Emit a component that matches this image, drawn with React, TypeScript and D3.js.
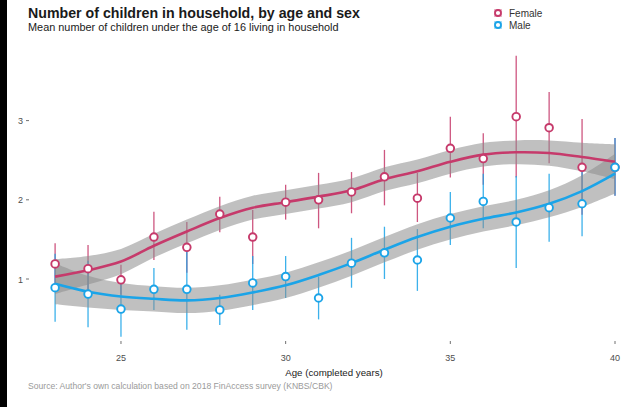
import React from "react";
import * as d3 from "d3";

const ages = [23, 24, 25, 26, 27, 28, 29, 30, 31, 32, 33, 34, 35, 36, 37, 38, 39, 40];

const femaleMean = [1.19, 1.13, 0.99, 1.53, 1.40, 1.82, 1.53, 1.97, 2.00, 2.10, 2.29, 2.02, 2.65, 2.52, 3.05, 2.91, 2.41, 2.41];
const femaleLow = [0.92, 0.82, 0.80, 1.24, 1.08, 1.59, 1.19, 1.75, 1.64, 1.83, 1.93, 1.72, 2.28, 2.19, 2.28, 2.46, 1.81, 2.05];
const femaleHigh = [1.45, 1.43, 1.18, 1.85, 1.72, 2.04, 1.87, 2.19, 2.34, 2.35, 2.63, 2.34, 3.05, 2.84, 3.82, 3.36, 3.02, 2.78];

const maleMean = [0.89, 0.81, 0.62, 0.87, 0.87, 0.61, 0.95, 1.03, 0.76, 1.20, 1.33, 1.24, 1.77, 1.98, 1.72, 1.90, 1.95, 2.41];
const maleLow = [0.46, 0.39, 0.27, 0.61, 0.36, 0.42, 0.61, 0.76, 0.49, 0.89, 1.00, 0.85, 1.43, 1.64, 1.14, 1.47, 1.54, 2.05];
const maleHigh = [1.32, 1.23, 0.97, 1.14, 1.39, 0.80, 1.29, 1.29, 1.03, 1.52, 1.66, 1.63, 2.10, 2.33, 2.30, 2.33, 2.35, 2.78];

// smoothed fit and confidence half-width
const femaleFit = [1.03, 1.11, 1.22, 1.42, 1.60, 1.77, 1.90, 1.97, 2.04, 2.12, 2.26, 2.36, 2.48, 2.57, 2.60, 2.59, 2.54, 2.48];
const femaleBand = [0.22, 0.18, 0.16, 0.15, 0.15, 0.15, 0.15, 0.15, 0.15, 0.15, 0.15, 0.15, 0.15, 0.15, 0.15, 0.16, 0.18, 0.22];
const maleFit = [0.94, 0.84, 0.78, 0.75, 0.73, 0.76, 0.83, 0.92, 1.05, 1.20, 1.37, 1.53, 1.66, 1.76, 1.84, 1.95, 2.11, 2.33];
const maleBand = [0.26, 0.2, 0.17, 0.16, 0.16, 0.16, 0.16, 0.16, 0.16, 0.16, 0.16, 0.16, 0.16, 0.16, 0.16, 0.17, 0.2, 0.25];

const xTicks = [25, 30, 35, 40];
const yTicks = [1, 2, 3];

const FEMALE = "#c63a6b";
const MALE = "#1ba4e8";

export default function App() {
  const W = 640, H = 407;
  const x = d3.scaleLinear().domain([23, 40]).range([55.1, 615]);
  const y = d3.scaleLinear().domain([1, 3]).range([279, 120.6]);
  const font = "'Liberation Sans', Arial, sans-serif";

  const line = d3.line<number>().x((_, i) => x(ages[i])).y(v => y(v)).curve(d3.curveCatmullRom);
  const area = (fit: number[], band: number[]) =>
    d3.area<number>()
      .x((_, i) => x(ages[i]))
      .y0((v, i) => y(v - band[i]))
      .y1((v, i) => y(v + band[i]))
      .curve(d3.curveCatmullRom)(fit) || "";

  const series = [
    { name: "Female", color: FEMALE, mean: femaleMean, lo: femaleLow, hi: femaleHigh, fit: femaleFit, band: femaleBand },
    { name: "Male", color: MALE, mean: maleMean, lo: maleLow, hi: maleHigh, fit: maleFit, band: maleBand },
  ];

  return (
    <svg width={W} height={H} style={{ position: "absolute", left: 0, top: 0, background: "#fff" }} fontFamily={font}>
      <rect x={0} y={0} width={W} height={H} fill="#fff" />
      <rect x={0} y={0} width={7} height={H} fill="#000" />
      <text x={28} y={17.5} fontSize={14.2} fontWeight="bold" fill="#1a1a1a">Number of children in household, by age and sex</text>
      <text x={28} y={31} fontSize={10.9} fill="#1a1a1a">Mean number of children under the age of 16 living in household</text>

      {/* legend */}
      {series.map((s, i) => (
        <g key={s.name} transform={`translate(0, ${i * 12})`}>
          <rect x={494} y={9} width={8} height={8} fill={s.color} opacity={0.35} />
          <circle cx={498} cy={13} r={3} fill="#fff" stroke={s.color} strokeWidth={1.8} />
          <text x={509} y={16.5} fontSize={10} fill="#333">{s.name}</text>
        </g>
      ))}

      {/* y axis */}
      {yTicks.map(t => (
        <g key={t}>
          <text x={23} y={y(t) + 3.5} fontSize={9} fill="#4d4d4d" textAnchor="end">{t}</text>
          <line x1={26} x2={29} y1={y(t)} y2={y(t)} stroke="#4d4d4d" strokeWidth={0.8} />
        </g>
      ))}
      {/* x axis */}
      {xTicks.map(t => (
        <g key={t}>
          <line x1={x(t)} x2={x(t)} y1={341} y2={344} stroke="#4d4d4d" strokeWidth={0.8} />
          <text x={x(t)} y={361} fontSize={9} fill="#4d4d4d" textAnchor="middle">{t}</text>
        </g>
      ))}
      <text x={334} y={375.5} fontSize={9.7} fill="#1a1a1a" textAnchor="middle">Age (completed years)</text>
      <text x={28} y={389} fontSize={8.6} fill="#9a9a9a">Source: Author's own calculation based on 2018 FinAccess survey (KNBS/CBK)</text>

      {/* error bars */}
      {series.map(s => (
        <g key={s.name + "bars"}>
          {ages.map((a, i) => (
            <line key={a} x1={x(a)} x2={x(a)} y1={y(s.lo[i])} y2={y(s.hi[i])} stroke={s.color} strokeWidth={1.3} opacity={0.85} />
          ))}
        </g>
      ))}
      {/* ribbons */}
      {series.map(s => (
        <path key={s.name + "rib"} d={area(s.fit, s.band)} fill="#8c8c8c" opacity={0.55} />
      ))}
      {/* smooth lines */}
      {series.map(s => (
        <path key={s.name + "line"} d={line(s.fit) || ""} fill="none" stroke={s.color} strokeWidth={2.6} />
      ))}
      {/* points */}
      {series.map(s => (
        <g key={s.name + "pts"}>
          {ages.map((a, i) => (
            <circle key={a} cx={x(a)} cy={y(s.mean[i])} r={3.8} fill="#fff" stroke={s.color} strokeWidth={1.9} />
          ))}
        </g>
      ))}
    </svg>
  );
}
